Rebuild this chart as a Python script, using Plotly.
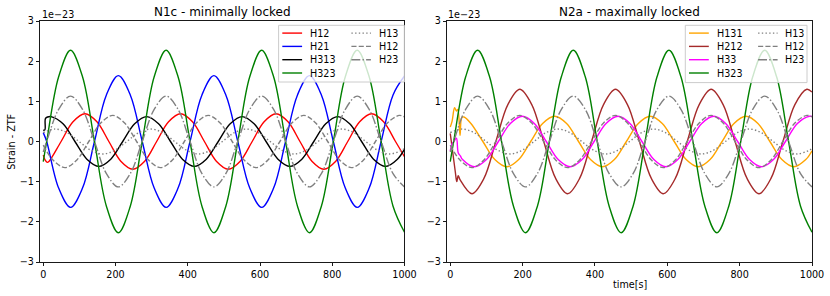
import plotly.graph_objects as go

# ---------------- data: time [s], strain in units of 1e-23 ----------------
# shared sample times (read at peaks / troughs / zero crossings / half-amplitude points)
t_h323 = [0, 9.5, 42.6, 75.6, 108.7, 141.8, 174.8, 207.9, 240.9, 274.0, 307.1, 340.1, 373.2,
          406.3, 439.3, 472.4, 505.4, 538.5, 571.6, 604.6, 637.7, 670.8, 703.8, 736.9, 769.9,
          803.0, 836.1, 869.1, 902.2, 935.3, 968.3, 1000]
v_h323 = [-0.5, 0, 1.61, 2.27, 1.61, 0, -1.61, -2.27, -1.61, 0, 1.61, 2.27, 1.61, 0, -1.61, -2.27,
          -1.61, 0, 1.61, 2.27, 1.61, 0, -1.61, -2.27, -1.61, 0, 1.61, 2.27, 1.61, 0, -1.61, -2.26]
v_h21 = [0.22, 0, -1.16, -1.64, -1.16, 0, 1.16, 1.64, 1.16, 0, -1.16, -1.64, -1.16, 0, 1.16, 1.64,
         1.16, 0, -1.16, -1.64, -1.16, 0, 1.16, 1.64, 1.16, 0, -1.16, -1.64, -1.16, 0, 1.16, 1.63]
v_h23 = [-0.26, 0, 0.80, 1.13, 0.80, 0, -0.80, -1.13, -0.80, 0, 0.80, 1.13, 0.80, 0, -0.80, -1.13,
         -0.80, 0, 0.80, 1.13, 0.80, 0, -0.80, -1.13, -0.80, 0, 0.80, 1.13, 0.80, 0, -0.80, -1.13]

t_h12 = [0, 5, 11, 16.3, 49.4, 82.4, 115.5, 148.6, 181.6, 214.7, 247.7, 280.8, 313.9, 346.9, 380.0,
         413.1, 446.1, 479.2, 512.2, 545.3, 578.4, 611.4, 644.5, 677.6, 710.6, 743.7, 776.7, 809.8,
         842.9, 875.9, 909.0, 942.1, 975.1, 1000]
v_h12 = [-0.34, -0.46, -0.52, -0.49, 0, 0.49, 0.69, 0.49, 0, -0.49, -0.69, -0.49, 0, 0.49, 0.69,
         0.49, 0, -0.49, -0.69, -0.49, 0, 0.49, 0.69, 0.49, 0, -0.49, -0.69, -0.49, 0, 0.49, 0.69,
         0.49, 0, -0.38]

t_h313 = [0, 4.5, 6, 12, 21.6, 54.7, 87.7, 120.8, 153.9, 186.9, 220.0, 253.0, 286.1, 319.2, 352.2,
          385.3, 418.4, 451.4, 484.5, 517.5, 550.6, 583.7, 616.7, 649.8, 682.9, 715.9, 749.0, 782.0,
          815.1, 848.2, 881.2, 914.3, 947.4, 980.4, 1000]
v_h313 = [0.28, 0.29, 0.57, 0.61, 0.62, 0.44, 0, -0.44, -0.62, -0.44, 0, 0.44, 0.62, 0.44, 0,
          -0.44, -0.62, -0.44, 0, 0.44, 0.62, 0.44, 0, -0.44, -0.62, -0.44, 0, 0.44, 0.62, 0.44, 0,
          -0.44, -0.62, -0.44, -0.19]

t_h13 = [0, 33.1, 66.1, 99.2, 132.3, 165.3, 198.4, 231.4, 264.5, 297.6, 330.6, 363.7, 396.8, 429.8,
         462.9, 495.9, 529.0, 562.1, 595.1, 628.2, 661.3, 694.3, 727.4, 760.4, 793.5, 826.6, 859.6,
         892.7, 925.8, 958.8, 991.9, 1000]
v_h13 = [0.22, 0.31, 0.22, 0, -0.22, -0.31, -0.22, 0, 0.22, 0.31, 0.22, 0, -0.22, -0.31, -0.22, 0,
         0.22, 0.31, 0.22, 0, -0.22, -0.31, -0.22, 0, 0.22, 0.31, 0.22, 0, -0.22, -0.31, -0.22, -0.17]

t_h12g = [0, 26.9, 60.0, 93.1, 126.1, 159.2, 192.3, 225.3, 258.4, 291.4, 324.5, 357.6, 390.6, 423.7,
          456.8, 489.8, 522.9, 555.9, 589.0, 622.1, 655.1, 688.2, 721.3, 754.3, 787.4, 820.4, 853.5,
          886.6, 919.6, 952.7, 985.8, 1000]
v_h12g = [-0.09, -0.46, -0.65, -0.46, 0, 0.46, 0.65, 0.46, 0, -0.46, -0.65, -0.46, 0, 0.46, 0.65,
          0.46, 0, -0.46, -0.65, -0.46, 0, 0.46, 0.65, 0.46, 0, -0.46, -0.65, -0.46, 0, 0.46, 0.65,
          0.61]

# right panel: N2a - maximally locked
t_h131 = [0, 5, 12, 17, 21, 27, 32, 38, 57.1, 90.1, 123.2, 156.3, 189.3, 222.4, 255.4, 288.5, 321.6,
          354.6, 387.7, 420.8, 453.8, 486.9, 519.9, 553.0, 586.1, 619.1, 652.2, 685.3, 718.3, 751.4,
          784.4, 817.5, 850.6, 883.6, 916.7, 949.8, 982.8, 1000]
v_h131 = [0.36, 0.5, 0.84, 0.76, 0.8, 0.15, 0.6, 0.61, 0.45, 0, -0.45, -0.63, -0.45, 0, 0.45, 0.63,
          0.45, 0, -0.45, -0.63, -0.45, 0, 0.45, 0.63, 0.45, 0, -0.45, -0.63, -0.45, 0, 0.45, 0.63,
          0.45, 0, -0.45, -0.63, -0.45, -0.23]

t_h212 = [0, 14, 18, 22, 27, 60.0, 93.1, 126.1, 159.2, 192.3, 225.3, 258.4, 291.4, 324.5, 357.6,
          390.6, 423.7, 456.8, 489.8, 522.9, 555.9, 589.0, 622.1, 655.1, 688.2, 721.3, 754.3, 787.4,
          820.4, 853.5, 886.6, 919.6, 952.7, 985.8, 1000]
v_h212 = [0.2, -0.76, -1.0, -0.85, -0.95, -1.3, -0.92, 0, 0.92, 1.3, 0.92, 0, -0.92, -1.3, -0.92, 0,
          0.92, 1.3, 0.92, 0, -0.92, -1.3, -0.92, 0, 0.92, 1.3, 0.92, 0, -0.92, -1.3, -0.92, 0, 0.92,
          1.3, 1.23]

t_h33 = [0, 5, 10, 17, 22, 28, 33.9, 67.0, 100.1, 133.1, 166.2, 199.3, 232.3, 265.4, 298.4, 331.5,
         364.6, 397.6, 430.7, 463.8, 496.8, 529.9, 562.9, 596.0, 629.1, 662.1, 695.2, 728.3, 761.3,
         794.4, 827.4, 860.5, 893.6, 926.6, 959.7, 992.8, 1000]
v_h33 = [-0.24, -0.06, 0.0, 0.08, -0.28, -0.36, -0.45, -0.63, -0.45, 0, 0.45, 0.63, 0.45, 0, -0.45,
         -0.63, -0.45, 0, 0.45, 0.63, 0.45, 0, -0.45, -0.63, -0.45, 0, 0.45, 0.63, 0.45, 0, -0.45,
         -0.63, -0.45, 0, 0.45, 0.63, 0.62]

x_ticks = [0, 200, 400, 600, 800, 1000]
y_ticks = [-3, -2, -1, 0, 1, 2, 3]
y_tick_labels = ["\u22123", "\u22122", "\u22121", "0", "1", "2", "3"]
titles = ["N1c - minimally locked", "N2a - maximally locked"]

# ---------------- styles ----------------
DOT = "1.4px,2.3px"
DASH = "5.1px,2.2px"
DASHDOT = "8.9px,2.2px,1.4px,2.2px"
FONT = "DejaVu Sans"
FS = 9.6

# (legend name, t, v, colour, dash, legend column, legend row)
left_series = [
    ("H12", t_h12, v_h12, "#ff0000", "solid", 0, 0),
    ("H21", t_h323, v_h21, "#0000ff", "solid", 0, 1),
    ("H313", t_h313, v_h313, "#000000", "solid", 0, 2),
    ("H323", t_h323, v_h323, "#008000", "solid", 0, 3),
    ("H13", t_h13, v_h13, "#808080", DOT, 1, 0),
    ("H12", t_h12g, v_h12g, "#808080", DASH, 1, 1),
    ("H23", t_h323, v_h23, "#808080", DASHDOT, 1, 2),
]
right_series = [
    ("H131", t_h131, v_h131, "#ffa500", "solid", 0, 0),
    ("H212", t_h212, v_h212, "#a52a2a", "solid", 0, 1),
    ("H33", t_h33, v_h33, "#ff00ff", "solid", 0, 2),
    ("H323", t_h323, v_h323, "#008000", "solid", 0, 3),
    ("H13", t_h13, v_h13, "#808080", DOT, 1, 0),
    ("H12", t_h12g, v_h12g, "#808080", DASH, 1, 1),
    ("H23", t_h323, v_h23, "#808080", DASHDOT, 1, 2),
]

# figure geometry (page body margin removed in the written page)
W, H = 830, 296
P_LEFT, P_RIGHT, P_TOP, P_BOTTOM = 39.7, 811.7, 20.7, 261.7
PW, PH = P_RIGHT - P_LEFT, P_BOTTOM - P_TOP
ML, MT = P_LEFT, P_TOP
MR, MB = W - P_RIGHT, H - P_BOTTOM


def pxx(x):
    return (x - P_LEFT) / PW


def pxy(y):
    return (P_BOTTOM - y) / PH


fig = go.Figure()
for xa, ya, series in (("x", "y", left_series), ("x2", "y2", right_series)):
    for name, t, v, col, dash, _, _ in series:
        fig.add_trace(go.Scatter(
            x=t, y=v, mode="lines", name=name, showlegend=False, hoverinfo="skip",
            line=dict(color=col, width=1.4, dash=dash, shape="spline", smoothing=1.0),
            xaxis=xa, yaxis=ya))

axis_style = dict(showline=True, linecolor="black", linewidth=0.9, mirror=True,
                  ticks="outside", ticklen=3.2, tickwidth=0.9, tickcolor="black",
                  showgrid=False, zeroline=False,
                  tickfont=dict(family=FONT, size=FS, color="black"))

left_dom = [0, pxx(404.2)]
right_dom = [pxx(446.7), 1]
fig.update_layout(
    width=W, height=H, margin=dict(l=ML, r=MR, t=MT, b=MB, autoexpand=False),
    paper_bgcolor="white", plot_bgcolor="white",
    xaxis=dict(domain=left_dom, range=[-9, 1000], tickvals=x_ticks, anchor="y", **axis_style),
    yaxis=dict(domain=[0, 1], range=[-3, 3], tickvals=y_ticks, ticktext=y_tick_labels,
               anchor="x", **axis_style),
    xaxis2=dict(domain=right_dom, range=[-9, 1000], tickvals=x_ticks, anchor="y2", **axis_style),
    yaxis2=dict(domain=[0, 1], range=[-3, 3], tickvals=y_ticks, ticktext=y_tick_labels,
                anchor="x2", **axis_style),
    showlegend=False,
)

shapes, annots = [], []
# matplotlib-like legends (two columns, framed box)
boxes = [((278.3, 404.0, 25.0, 81.7), left_series), ((685.0, 806.7, 25.0, 82.3), right_series)]
row_y = [32.8, 46.1, 59.4, 72.7]
col_line = [(3.7, 23.5), (72.8, 92.3)]
col_text = [30.5, 99.0]
for (bx0, bx1, by0, by1), series in boxes:
    shapes.append(dict(type="rect", xref="paper", yref="paper", x0=pxx(bx0), x1=pxx(bx1),
                       y0=pxy(by1), y1=pxy(by0), fillcolor="rgba(255,255,255,0.8)",
                       line=dict(color="#cccccc", width=1), layer="above"))
    for name, _, _, col, dash, c, r in series:
        yy = pxy(row_y[r])
        shapes.append(dict(type="line", xref="paper", yref="paper",
                           x0=pxx(bx0 + col_line[c][0]), x1=pxx(bx0 + col_line[c][1]),
                           y0=yy, y1=yy, line=dict(color=col, width=1.4, dash=dash), layer="above"))
        annots.append(dict(text=name, xref="paper", yref="paper", x=pxx(bx0 + col_text[c]), y=yy,
                           xanchor="left", yanchor="middle", showarrow=False, borderpad=0,
                           font=dict(family=FONT, size=FS, color="black")))

for title, cx, ox in ((titles[0], 222.1, 40.5), (titles[1], 629.2, 446.9)):
    annots.append(dict(text=title, xref="paper", yref="paper", x=pxx(cx), y=pxy(11.7),
                       xanchor="center", yanchor="middle", showarrow=False,
                       font=dict(family=FONT, size=12, color="black")))
    annots.append(dict(text="1e\u221223", xref="paper", yref="paper", x=pxx(ox), y=pxy(14.0),
                       xanchor="left", yanchor="middle", showarrow=False, borderpad=0,
                       font=dict(family=FONT, size=FS, color="black")))
annots.append(dict(text="Strain - ZTF", xref="paper", yref="paper", x=pxx(11.0), y=pxy(141.2),
                   xanchor="center", yanchor="middle", showarrow=False, textangle=-90,
                   font=dict(family=FONT, size=FS, color="black")))
annots.append(dict(text="time[s]", xref="paper", yref="paper", x=pxx(629.2), y=pxy(284.5),
                   xanchor="center", yanchor="middle", showarrow=False,
                   font=dict(family=FONT, size=FS, color="black")))

fig.update_layout(shapes=shapes, annotations=annots)
fig.write_html("out.html", config={"displayModeBar": False, "staticPlot": True},
               post_script="document.body.style.margin='0px';")
